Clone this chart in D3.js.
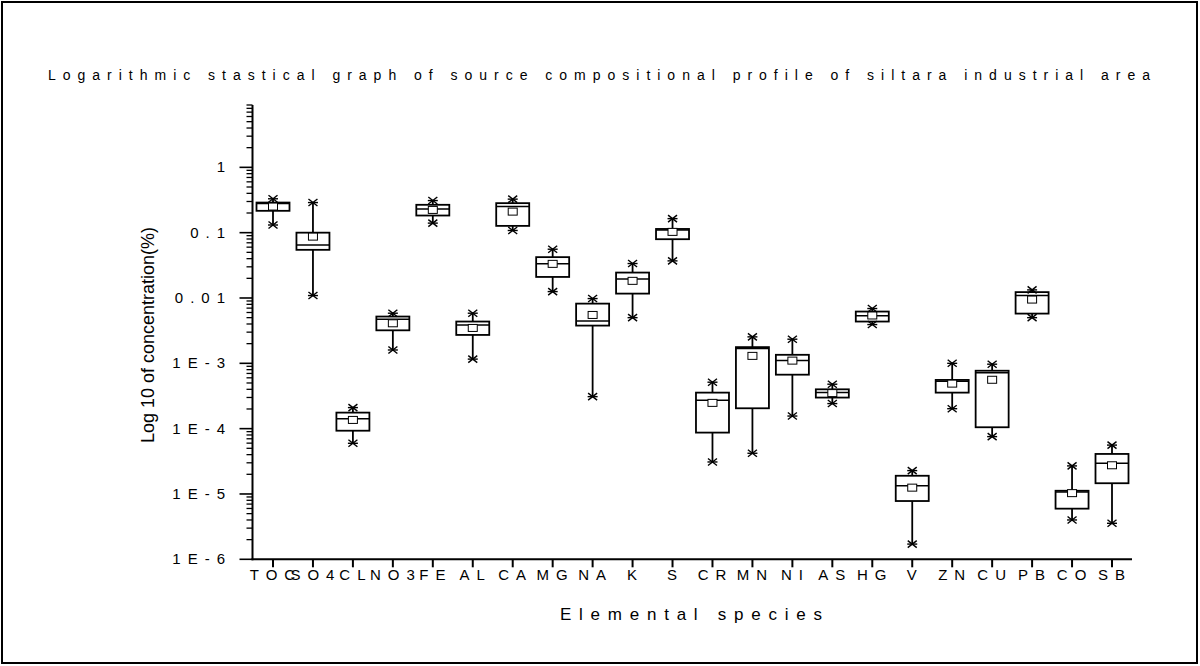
<!DOCTYPE html>
<html><head><meta charset="utf-8">
<script src="https://cdn.jsdelivr.net/npm/d3@7"></script>
<style>body{margin:0;background:#fff}svg{display:block}text{font-family:"Liberation Sans",Arial,sans-serif;fill:#000}</style>
</head><body><svg id="c" width="1200" height="666"></svg>
<script>
const categories = ["TOC","SO4","CL","NO3","FE","AL","CA","MG","NA","K","S","CR","MN","NI","AS","HG","V","ZN","CU","PB","CO","SB"];
const maxVals  = [0.33,0.289,2.1e-4,5.85e-3,0.31,5.85e-3,0.326,0.0558,9.8e-3,0.0337,0.164,5.14e-4,2.54e-3,2.34e-3,4.79e-4,6.9e-3,2.28e-5,1.0e-3,9.7e-4,0.0133,2.69e-5,5.6e-5];
const q3Vals   = [0.289,0.1,1.76e-4,5.2e-3,0.267,4.36e-3,0.283,0.0422,8.2e-3,0.0245,0.114,3.56e-4,1.77e-3,1.35e-3,4.0e-4,6.2e-3,1.9e-5,5.57e-4,7.7e-4,0.0123,1.12e-5,4.1e-5];
const medVals  = [0.28,0.065,1.42e-4,4.73e-3,0.231,3.87e-3,0.251,0.0333,4.46e-3,0.0196,0.11,2.72e-4,1.68e-3,1.1e-3,3.56e-4,5.37e-3,1.34e-5,5.3e-4,7.2e-4,0.0109,1.07e-5,2.95e-5];
const meanVals = [0.251,0.087,1.36e-4,4.1e-3,0.223,3.48e-3,0.21,0.0333,5.5e-3,0.0183,0.1028,2.48e-4,1.3e-3,1.1e-3,3.5e-4,5.4e-3,1.25e-5,4.89e-4,5.6e-4,9.46e-3,1.03e-5,2.75e-5];
const q1Vals   = [0.216,0.0546,9.3e-5,3.2e-3,0.183,2.72e-3,0.127,0.021,3.78e-3,0.01167,0.0794,8.7e-5,2.05e-4,6.7e-4,2.99e-4,4.36e-3,7.8e-6,3.56e-4,1.05e-4,5.77e-3,5.96e-6,1.46e-5];
const minVals  = [0.131,0.0109,5.97e-5,1.6e-3,0.14,1.16e-3,0.108,0.01253,3.09e-4,5.0e-3,0.037,3.09e-5,4.2e-5,1.56e-4,2.42e-4,3.92e-3,1.71e-6,2.02e-4,7.55e-5,5.0e-3,4.0e-6,3.56e-6];
const yTickValues = [1,0.1,0.01,1e-3,1e-4,1e-5,1e-6];
const yTickLabels = ["1","0.1","0.01","1E-3","1E-4","1E-5","1E-6"];
const titleText = "Logarithmic stastical graph of source compositional profile of siltara industrial area";
const yTitle = "Log 10 of concentration(%)";
const xTitle = "Elemental species";

const svg = d3.select("#c");
svg.append("rect").attr("x",2).attr("y",2).attr("width",1195).attr("height",661)
  .attr("fill","none").attr("stroke","#000").attr("stroke-width",2);

const x = d3.scalePoint().domain(categories).range([273,1112]);
const y = d3.scaleLog().domain([1e-6,9]).range([559.3,105]);
const axX0 = 252.5, axY = 559.3;

svg.append("text").attr("x",48).attr("y",80).attr("font-size",14)
  .attr("textLength",1102).attr("lengthAdjust","spacing").text(titleText);

const ya = svg.append("g");
ya.append("line").attr("x1",axX0).attr("x2",axX0).attr("y1",y(9)).attr("y2",axY+1)
  .attr("stroke","#000").attr("stroke-width",2);
const minor = [];
for (let e=-6;e<=0;e++) for (let m=2;m<=9;m++) minor.push(m*Math.pow(10,e));
ya.selectAll(".mi").data(minor).join("line")
  .attr("x1",axX0-6).attr("x2",axX0).attr("y1",d=>y(d)).attr("y2",d=>y(d))
  .attr("stroke","#000").attr("stroke-width",1.3);
ya.selectAll(".ma").data(yTickValues).join("line")
  .attr("x1",axX0-13).attr("x2",axX0).attr("y1",d=>y(d)).attr("y2",d=>y(d))
  .attr("stroke","#000").attr("stroke-width",1.6);
ya.selectAll(".lb").data(yTickValues).join("text")
  .attr("x",232).attr("y",d=>y(d)+5).attr("text-anchor","end").attr("font-size",15)
  .attr("letter-spacing",7).text((d,i)=>yTickLabels[i]);
svg.append("text").attr("transform","translate(154,335) rotate(-90)")
  .attr("text-anchor","middle").attr("font-size",18).text(yTitle);

svg.append("line").attr("x1",axX0-1).attr("x2",1132).attr("y1",axY).attr("y2",axY)
  .attr("stroke","#000").attr("stroke-width",2);
svg.selectAll(".xt").data(categories).join("line")
  .attr("x1",d=>x(d)).attr("x2",d=>x(d)).attr("y1",axY).attr("y2",axY+8)
  .attr("stroke","#000").attr("stroke-width",2);
svg.selectAll(".xl").data(categories).join("text")
  .attr("x",d=>x(d)+3).attr("y",580).attr("text-anchor","middle").attr("font-size",15)
  .attr("letter-spacing",7).text(d=>d);
svg.append("text").attr("x",560).attr("y",620).attr("font-size",17)
  .attr("textLength",262).attr("lengthAdjust","spacing").text(xTitle);

const hw = 16.5;
const data = categories.map((c,i)=>({c,max:maxVals[i],q3:q3Vals[i],med:medVals[i],mean:meanVals[i],q1:q1Vals[i],min:minVals[i]}));
const g = svg.selectAll(".bx").data(data).join("g");
g.append("line").attr("x1",d=>x(d.c)).attr("x2",d=>x(d.c)).attr("y1",d=>y(d.max)).attr("y2",d=>y(d.min))
  .attr("stroke","#000").attr("stroke-width",1.8);
g.append("rect").attr("x",d=>x(d.c)-hw).attr("width",hw*2)
  .attr("y",d=>y(d.q3)).attr("height",d=>y(d.q1)-y(d.q3))
  .attr("fill","#fff").attr("stroke","#000").attr("stroke-width",1.8);
g.append("line").attr("x1",d=>x(d.c)-hw).attr("x2",d=>x(d.c)+hw).attr("y1",d=>y(d.med)).attr("y2",d=>y(d.med))
  .attr("stroke","#000").attr("stroke-width",1.5);
g.append("rect").attr("x",d=>x(d.c)-4.5).attr("y",d=>y(d.mean)-3.5).attr("width",9).attr("height",7)
  .attr("fill","#fff").attr("stroke","#000").attr("stroke-width",1);
function star(sel, key){
  const s = sel.append("g").attr("transform",d=>`translate(${x(d.c)},${y(d[key])})`);
  s.append("line").attr("x1",-5).attr("x2",5).attr("y1",0).attr("y2",0);
  s.append("line").attr("x1",-4.5).attr("x2",4.5).attr("y1",-3.5).attr("y2",3.5);
  s.append("line").attr("x1",-4.5).attr("x2",4.5).attr("y1",3.5).attr("y2",-3.5);
  s.selectAll("line").attr("stroke","#000").attr("stroke-width",1.4);
}
star(g,"max"); star(g,"min");
</script></body></html>
